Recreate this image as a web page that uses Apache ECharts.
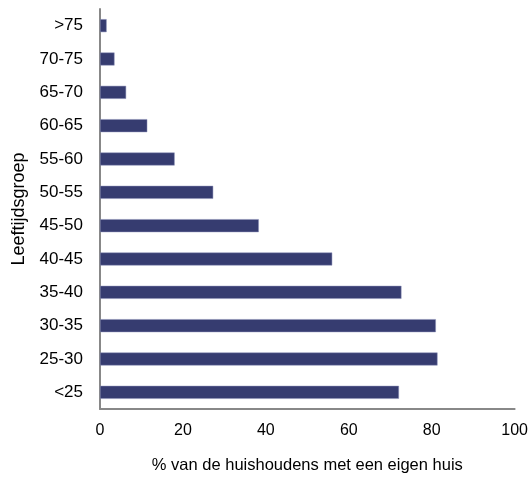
<!DOCTYPE html>
<html><head><meta charset="utf-8">
<script src="https://cdn.jsdelivr.net/npm/echarts@6/dist/echarts.min.js"></script>
<style>html,body{margin:0;padding:0;background:#fff}#c{width:531px;height:479px}</style>
</head><body><div id="c"></div>
<script>
const categories = ['<25','25-30','30-35','35-40','40-45','45-50','50-55','55-60','60-65','65-70','70-75','>75'];
const values = [72.1, 81.4, 81.0, 72.7, 56.0, 38.3, 27.3, 18.0, 11.4, 6.3, 3.5, 1.6];
const xTicks = [0, 20, 40, 60, 80, 100];
const xTitle = '% van de huishoudens met een eigen huis';
const yTitle = 'Leeftijdsgroep';

const font = 'Liberation Sans, Arial, sans-serif';
const chart = echarts.init(document.getElementById('c'), null, {renderer:'canvas'});
chart.setOption({
  animation: false,
  grid: {left: 100, right: 16, top: 9, bottom: 69, containLabel: false},
  xAxis: {
    type: 'value', min: xTicks[0], max: xTicks[xTicks.length-1], interval: 20,
    name: xTitle, nameLocation: 'middle', nameGap: 48,
    nameTextStyle: {fontFamily: font, fontSize: 16.5, color: '#000'},
    axisLine: {show: true, lineStyle: {color: '#888', width: 2}},
    axisTick: {show: false},
    splitLine: {show: false},
    axisLabel: {fontFamily: font, fontSize: 16, color: '#000', margin: 14}
  },
  yAxis: {
    type: 'category', data: categories,
    name: yTitle, nameLocation: 'middle', nameGap: 72, nameRotate: 90,
    nameTextStyle: {fontFamily: font, fontSize: 18, color: '#000'},
    axisLine: {show: true, lineStyle: {color: '#888', width: 2}},
    axisTick: {show: false},
    axisLabel: {fontFamily: font, fontSize: 17, color: '#000', margin: 17}
  },
  series: [{
    type: 'bar', data: values, barWidth: 13,
    itemStyle: {color: '#363c70', borderColor: '#8c90b8', borderWidth: 0.5}
  }]
});
</script></body></html>
